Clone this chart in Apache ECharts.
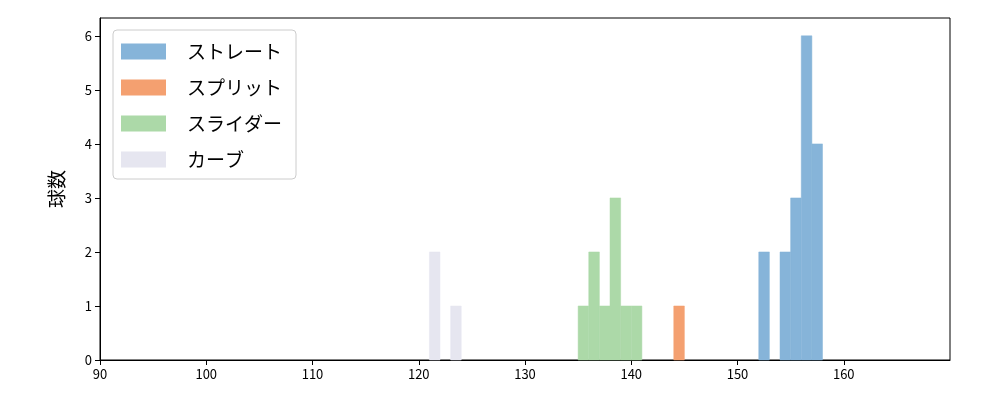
<!DOCTYPE html>
<html><head><meta charset="utf-8">
<script src="https://cdn.jsdelivr.net/npm/echarts@6/dist/echarts.min.js"></script>
<style>html,body{margin:0;}#chart{width:1000px;height:400px;}</style>
</head><body><div id="chart"></div>
<script>
// [bin start, bin end, count]
const straight = [[152, 153, 2], [154, 155, 2], [155, 156, 3], [156, 157, 6], [157, 158, 4]];
const split = [[144, 145, 1]];
const slider = [[135, 136, 1], [136, 137, 2], [137, 138, 1], [138, 139, 3], [139, 140, 1], [140, 141, 1]];
const curve = [[121, 122, 2], [123, 124, 1]];
const names = ['ストレート', 'スプリット', 'スライダー', 'カーブ'];
const colors = ['#86b4d9', '#f4a070', '#acd9a8', '#e6e6f0'];
const xTicks = [90, 100, 110, 120, 130, 140, 150, 160];

function renderBar(params, api) {
  const a = api.coord([api.value(0), api.value(2)]);
  const b = api.coord([api.value(1), 0]);
  const c = api.visual('color');
  return { type: 'rect', shape: { x: a[0], y: a[1], width: b[0] - a[0], height: b[1] - a[1] }, style: { fill: c, stroke: c, lineWidth: 0.5 } };
}

const chart = echarts.init(document.getElementById('chart'));
const font = 'Noto Sans CJK JP';
chart.setOption({
  textStyle: { fontFamily: font },
  grid: { left: 100, right: 50, top: 18, bottom: 40 },
  legend: {
    orient: 'vertical', left: 113, top: 30, itemWidth: 45, itemHeight: 16, itemGap: 17,
    padding: [12, 14, 10, 8], borderColor: '#ccc', borderWidth: 1, borderRadius: 4,
    textStyle: { fontSize: 19, fontFamily: font, color: '#000', padding: [0, 0, 0, 16] },
    data: names.map(n => ({ name: n, icon: 'rect' }))
  },
  xAxis: {
    type: 'value', min: 90, max: 170, interval: 10,
    splitLine: { show: false },
    axisLine: { lineStyle: { color: '#000' } },
    axisTick: { show: true, lineStyle: { color: '#000' } },
    axisLabel: { color: '#000', fontSize: 13, showMaxLabel: false,
      formatter: v => xTicks.includes(v) ? String(v) : '' }
  },
  yAxis: {
    type: 'value', min: 0, max: 6.33, interval: 1,
    name: '球数', nameLocation: 'middle', nameGap: 34,
    nameTextStyle: { fontSize: 19, color: '#000' },
    splitLine: { show: false },
    axisLine: { show: true, lineStyle: { color: '#000' } },
    axisTick: { show: true, lineStyle: { color: '#000' } },
    axisLabel: { color: '#000', fontSize: 13, showMaxLabel: false }
  },
  series: [straight, split, slider, curve].map((d, i) => ({
    name: names[i], type: 'custom', renderItem: renderBar,
    itemStyle: { color: colors[i] }, data: d,
    encode: { x: [0, 1], y: 2 }
  }))
});
// top and right frame
chart.setOption({ graphic: [{ type: 'rect', shape: { x: 100, y: 18, width: 850, height: 342 }, style: { fill: 'none', stroke: '#000', lineWidth: 1 }, silent: true }] });
</script></body></html>
